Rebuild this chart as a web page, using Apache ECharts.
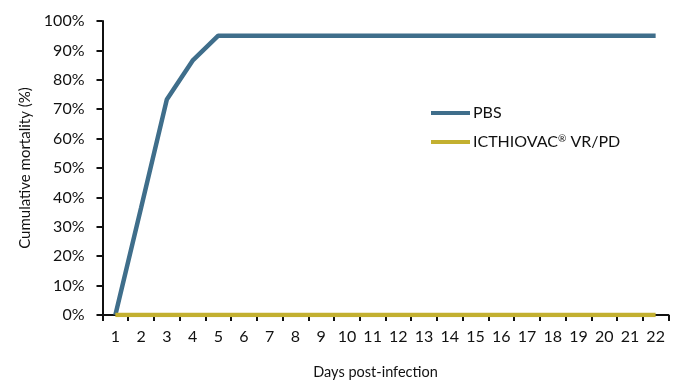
<!DOCTYPE html>
<html><head><meta charset="utf-8">
<script src="https://cdn.jsdelivr.net/npm/echarts@6/dist/echarts.min.js"></script>
<style>html,body{margin:0;padding:0;background:#fff}#c{width:690px;height:389px}</style>
</head><body><div id="c"></div>
<script>
const days = ['1','2','3','4','5','6','7','8','9','10','11','12','13','14','15','16','17','18','19','20','21','22'];
const pbs = [0,36.5,73.3,86.5,95,95,95,95,95,95,95,95,95,95,95,95,95,95,95,95,95,95];
const icthiovac = [0,0,0,0,0,0,0,0,0,0,0,0,0,0,0,0,0,0,0,0,0,0];
const seriesNames = ['PBS','ICTHIOVAC® VR/PD'];
const yTicks = [0,10,20,30,40,50,60,70,80,90,100];
const FONT = 'Lato';
const chart = echarts.init(document.getElementById('c'));
chart.setOption({
  animation:false,
  grid:{left:102.5,right:21.5,top:21,bottom:74},
  legend:{
    orient:'vertical', left:426, top:100, itemGap:13,
    itemWidth:39, itemHeight:18,
    icon:'path://M0,-2L39,-2L39,2L0,2Z',
    formatter:n=>n.indexOf('®')>=0?n.replace('®','{s|®}'):n,
    textStyle:{fontFamily:FONT,fontSize:16,color:'#111',padding:[0,0,0,-2],
      rich:{s:{fontFamily:FONT,fontSize:10,color:'#111',verticalAlign:'top',padding:[0,0,6,0]}}},
    data:seriesNames
  },
  xAxis:{
    type:'category', data:days, boundaryGap:true,
    name:'Days post-infection', nameLocation:'middle', nameGap:50,
    nameTextStyle:{fontFamily:FONT,fontSize:14.5,color:'#111',padding:[0,20,0,0]},
    axisLine:{lineStyle:{color:'#111',width:2}},
    axisTick:{show:true,length:6,lineStyle:{color:'#111',width:2}},
    axisLabel:{fontFamily:FONT,fontSize:16,color:'#111',margin:14}
  },
  yAxis:{
    type:'value', min:0, max:100, interval:10,
    name:'Cumulative mortality (%)', nameLocation:'middle', nameGap:60, nameRotate:90,
    nameTextStyle:{fontFamily:FONT,fontSize:15,color:'#111'},
    axisLine:{show:true,lineStyle:{color:'#111',width:2}},
    axisTick:{show:true,length:6,lineStyle:{color:'#111',width:2}},
    splitLine:{show:false},
    axisLabel:{fontFamily:FONT,fontSize:16,color:'#111',margin:18,
      formatter:v=>yTicks.includes(v)?v+'%':''}
  },
  series:[
    {name:seriesNames[0],type:'line',data:pbs,symbol:'none',
     lineStyle:{color:'#3f6e8b',width:4.5},itemStyle:{color:'#3f6e8b'},z:2},
    {name:seriesNames[1],type:'line',data:icthiovac,symbol:'none',
     lineStyle:{color:'#c3b030',width:4.5},itemStyle:{color:'#c3b030'},z:3}
  ]
});
</script></body></html>
